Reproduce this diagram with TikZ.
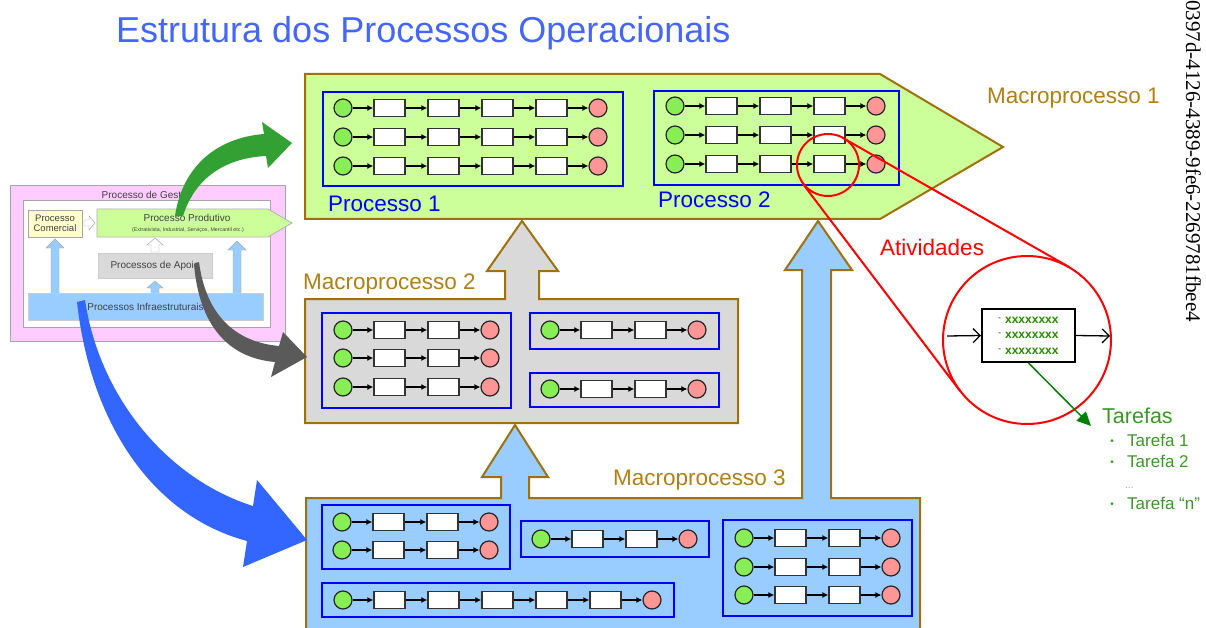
\documentclass[tikz,border=0pt]{standalone}
\usepackage{fontspec}
\setmainfont{Liberation Sans}
\newfontfamily\serifid{Liberation Serif}
\usetikzlibrary{arrows.meta}

\definecolor{titleblue}{RGB}{68,102,255}
\definecolor{macrobrown}{RGB}{160,112,10}
\definecolor{labelbrown}{RGB}{176,128,20}
\definecolor{macroverde}{RGB}{204,255,153}
\definecolor{macrocinza}{RGB}{217,217,217}
\definecolor{macroazul}{RGB}{153,204,255}
\definecolor{inicioverde}{RGB}{136,238,85}
\definecolor{fimvermelho}{RGB}{255,150,150}
\definecolor{tarefaverde}{RGB}{60,150,40}
\definecolor{xverde}{RGB}{40,140,0}
\definecolor{setaverde}{RGB}{51,160,51}
\definecolor{setacinza}{RGB}{90,90,90}
\definecolor{setaazul}{RGB}{51,102,255}
\definecolor{gestaorosa}{RGB}{255,204,255}
\definecolor{comercialamarelo}{RGB}{255,255,204}

\newcommand{\fmacro}{\fontsize{22.5}{26}\selectfont}
\newcommand{\fmini}{\fontsize{10}{11}\selectfont}
\newcommand{\xlinha}{\raisebox{3pt}{\fontsize{8}{8}\selectfont -}\hspace{4pt}{\color{xverde}\bfseries xxxxxxxx}}

% fluxo: x, y, numero de atividades, nome
\newcommand{\fluxo}[4]{%
  \node[inicio] (#4-0) at (#1,#2) {};
  \foreach \k [remember=\k as \ant (initially 0)] in {1,...,#3}{
    \node[atividade] (#4-\k) at ({#1+46.5+54*(\k-1)},#2) {};
    \draw[seta] (#4-\ant) -- (#4-\k);
  }
  \node[fim] (#4-f) at ({#1+93+54*(#3-1)},#2) {};
  \draw[seta] (#4-#3) -- (#4-f);
}

\begin{document}
\begin{tikzpicture}[x=1pt,y=-1pt,>={Latex[length=6pt,width=6pt]},
    inicio/.style={circle,draw=black!85,fill=inicioverde,line width=1.2pt,minimum size=18pt,inner sep=0pt},
    fim/.style={circle,draw=black!85,fill=fimvermelho,line width=1.2pt,minimum size=18pt,inner sep=0pt},
    atividade/.style={rectangle,draw=black!80,fill=white,line width=1.3pt,minimum width=31pt,minimum height=17pt,inner sep=0pt},
    seta/.style={->,line width=1.4pt},
    processo/.style={draw=blue,line width=2.5pt},
    macro/.style={draw=macrobrown,line width=2pt},
    texto/.style={anchor=base west,inner sep=0pt},
    rotulo/.style={texto,text=labelbrown,font=\fmacro},
    mini/.style={text=black!75,font=\fmini,inner sep=0pt}]
\useasboundingbox (0,0) rectangle (1206,628);
\clip (0,0) rectangle (1206,628);

% macroprocessos
\draw[macro,fill=macroazul] (306,640) -- (306,498) -- (501,498) -- (501,477) -- (482,477)
  -- (515,425) -- (548,477) -- (529,477) -- (529,498) -- (802,498) -- (802,270) -- (785,270)
  -- (818,221) -- (852,270) -- (831,270) -- (831,498) -- (920,498) -- (920,640) -- cycle;
\draw[macro,fill=macrocinza] (305,423) -- (305,299) -- (505,299) -- (505,271) -- (487,271)
  -- (522,221) -- (558,271) -- (539,271) -- (539,299) -- (738,299) -- (738,423) -- cycle;
\draw[macro,fill=macroverde] (305,74) -- (880,74) -- (1003,147) -- (880,219) -- (305,219) -- cycle;

\node[texto,text=titleblue,font=\fontsize{36}{40}\selectfont] (titulo) at (116,43) {Estrutura dos Processos Operacionais};
\node[rotulo] (macro1) at (987,104) {Macroprocesso 1};
\node[rotulo] (macro2) at (303,289) {Macroprocesso 2};
\node[rotulo] (macro3) at (613,485) {Macroprocesso 3};
\node[texto,rotate=-90,font=\serifid\fontsize{21}{24}\selectfont] (codigo) at (1186,0) {0397d-4126-4389-9fe6-2269781fbee4};

% processos
\draw[processo] (323,92) rectangle (623,186);
\draw[processo] (654,91) rectangle (899,185);
\node[texto,text=blue,font=\fmacro] (proc1) at (328,212) {Processo 1};
\node[texto,text=blue,font=\fmacro] (proc2) at (658,208) {Processo 2};
\fluxo{343}{108}{4}{pa}
\fluxo{343}{137}{4}{pb}
\fluxo{343}{166}{4}{pc}
\fluxo{675}{106}{3}{qa}
\fluxo{675}{135}{3}{qb}
\fluxo{675}{164}{3}{qc}

\draw[processo] (322,313) rectangle (511,408);
\draw[processo] (530,313) rectangle (719,349);
\draw[processo] (530,373) rectangle (719,407);
\fluxo{343}{330}{2}{ma}
\fluxo{343}{358}{2}{mb}
\fluxo{343}{387}{2}{mc}
\fluxo{550}{330}{2}{md}
\fluxo{550}{389}{2}{me}

\draw[processo] (322,505) rectangle (510,569);
\draw[processo] (521,521) rectangle (709,557);
\draw[processo] (723,520) rectangle (912,616);
\draw[processo] (322,583) rectangle (674,617);
\fluxo{342}{522}{2}{ra}
\fluxo{342}{550}{2}{rb}
\fluxo{541}{539}{2}{rc}
\fluxo{744}{538}{2}{rd}
\fluxo{744}{567}{2}{re}
\fluxo{744}{595}{2}{rf}
\fluxo{343}{600}{5}{rg}

% processo de gestao
\filldraw[fill=gestaorosa,draw=black!35,line width=0.8pt] (10,185) rectangle (285,341);
\filldraw[fill=white,draw=black!35,line width=0.8pt] (23,200) rectangle (270,327);
\node[mini] (gestao) at (147,195) {Processo de Gestão};
\node[mini,fill=comercialamarelo,draw=black!35,align=center,minimum width=54pt,minimum height=27pt,font=\fontsize{9.5}{10}\selectfont] (comercial) at (55,223.5) {Processo\\Comercial};
\filldraw[fill=white,draw=black!40] (84,220) -- (89,220) -- (89,216) -- (95,223) -- (89,230) -- (89,226) -- (84,226) -- cycle;
\filldraw[fill=macroverde,draw=black!30,line width=0.8pt] (97,209) -- (268,209) -- (292,223) -- (268,237) -- (97,237) -- cycle;
\node[mini] (produtivo) at (187,218) {Processo Produtivo};
\node[mini,font=\fontsize{5.3}{6}\selectfont] (produtivo2) at (188,230) {(Extrativista, Industrial, Serviços, Mercantil etc.)};
\filldraw[fill=white,draw=black!40] (151,252) -- (151,245) -- (147,245) -- (155,238) -- (163,245) -- (159,245) -- (159,252) -- cycle;
\node[mini,fill=macrocinza,draw=black!20,minimum width=114pt,minimum height=25pt] (apoio) at (155,265.5) {Processos de Apoio};
\filldraw[fill=macroazul,draw=black!35] (51,294) -- (51,248) -- (46,248) -- (55,239) -- (64,248) -- (59,248) -- (59,294) -- cycle;
\filldraw[fill=macroazul,draw=black!35] (233,294) -- (233,250) -- (228,250) -- (237,241) -- (246,250) -- (241,250) -- (241,294) -- cycle;
\filldraw[fill=macroazul,draw=black!35] (151,294) -- (151,288) -- (147,288) -- (155,281) -- (163,288) -- (159,288) -- (159,294) -- cycle;
\node[mini,fill=macroazul,draw=black!20,minimum width=235pt,minimum height=27pt] (infra) at (145.5,306.5) {Processos Infraestruturais};

% setas curvas
\fill[setaverde] (175,216) .. controls (182,168) and (215,138) .. (264,134) -- (262,122) -- (292,143)
  -- (268,168) -- (266,156) .. controls (225,158) and (195,178) .. (183,216) -- cycle;
\fill[setacinza] (199,262) .. controls (206,315) and (235,342) .. (279,346) -- (283,332) -- (307,357)
  -- (271,377) -- (275,362) .. controls (228,358) and (199,325) .. (194,264) -- cycle;
\fill[setaazul] (85,300) .. controls (100,400) and (170,480) .. (253,506) -- (257,480) -- (307,540)
  -- (243,567) -- (247,541) .. controls (150,515) and (90,420) .. (77,302) -- cycle;

% lupa
\draw[red,line width=2pt] (828,165) circle (31);
\draw[red,line width=2pt] (1027,340) circle (84);
\coordinate (lupa1) at (843,138);
\coordinate (lupa2) at (1069,267);
\coordinate (lupa3) at (803,184);
\coordinate (lupa4) at (960,391);
\draw[red,line width=2pt] (lupa1) -- (lupa2);
\draw[red,line width=2pt] (lupa3) -- (lupa4);
\node[texto,text=red,font=\fmacro] (ativ) at (880,255) {Atividades};

\node[draw=black,line width=2pt,fill=white,minimum width=93pt,minimum height=53pt,align=left,inner sep=2pt,
  font=\fontsize{12}{15.5}\selectfont] (detalhe) at (1028.5,335.5) {\xlinha\\\xlinha\\\xlinha};
\coordinate (entra) at (947,336);
\coordinate (sai) at (1110,336);
\draw[line width=1.3pt,-{Straight Barb[length=7pt,width=14pt]}] (entra) -- (detalhe.west);
\draw[line width=1.3pt,-{Straight Barb[length=7pt,width=14pt]}] (detalhe.east) -- (sai);

% tarefas
\node[texto,text=tarefaverde,font=\fontsize{21.5}{24}\selectfont] (tarefas) at (1102,423) {Tarefas};
\coordinate (ponta) at (1091,426);
\draw[line width=1.5pt,draw=green!50!black,-{Triangle[length=14pt,width=13pt]}] (detalhe.south) -- (ponta);
\foreach \y/\t/\n in {446/Tarefa 1/t1,467/Tarefa 2/t2,509/{Tarefa “n”}/tn}
{
    \node[texto,text=tarefaverde,font=\fontsize{17}{20}\selectfont] (\n) at (1127,\y) {\t};
    \node[anchor=base,text=tarefaverde,font=\fontsize{10}{12}\selectfont] at (1112,\y-2) {•};
}
\node[texto,text=black!35,font=\fontsize{10}{12}\selectfont] (tdots) at (1125,488) {...};
\end{tikzpicture}
\end{document}
